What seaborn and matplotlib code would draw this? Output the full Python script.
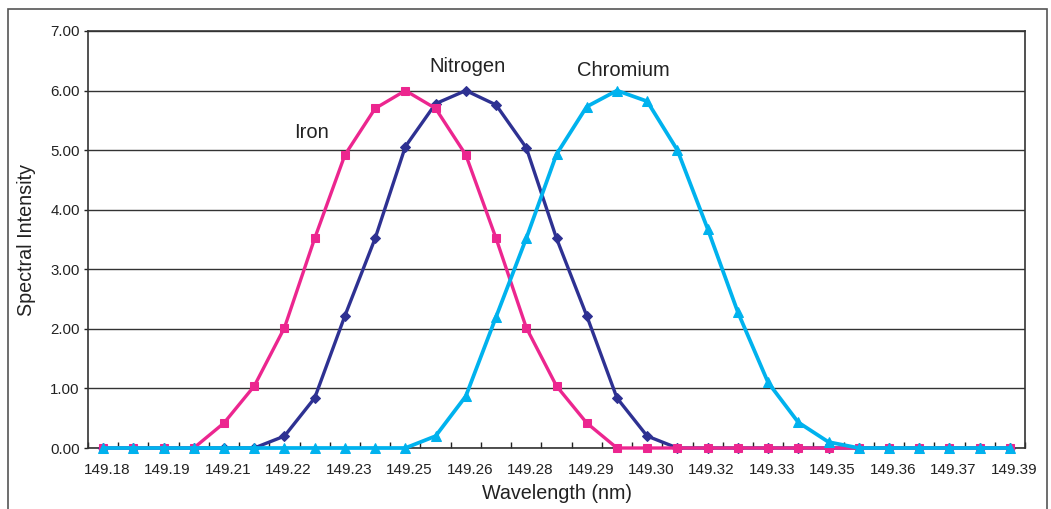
import numpy as np
import pandas as pd
import matplotlib
matplotlib.use("Agg")
import matplotlib.pyplot as plt
import matplotlib.transforms as mtransforms
import seaborn as sns
from matplotlib.patches import Rectangle

# ---- data ----
tick_labels = ["149.18", "149.19", "149.21", "149.22", "149.23", "149.25",
               "149.26", "149.28", "149.29", "149.30", "149.32", "149.33",
               "149.35", "149.36", "149.37", "149.39"]
y_ticks = [0, 1, 2, 3, 4, 5, 6, 7]

iron = [0, 0, 0, 0, 0.42, 1.04, 2.02, 3.52, 4.92, 5.70, 6.00, 5.70, 4.92, 3.52,
        2.02, 1.04, 0.42, 0, 0, 0, 0, 0, 0, 0, 0, 0, 0, 0, 0, 0, 0]
nitrogen = [0, 0, 0, 0, 0, 0, 0.20, 0.84, 2.22, 3.52, 5.06, 5.78, 6.00, 5.76,
            5.04, 3.52, 2.22, 0.84, 0.20, 0, 0, 0, 0, 0, 0, 0, 0, 0, 0, 0, 0]
chromium = [0, 0, 0, 0, 0, 0, 0, 0, 0, 0, 0, 0.20, 0.87, 2.20, 3.52, 4.93, 5.73,
            6.00, 5.82, 5.00, 3.68, 2.28, 1.10, 0.43, 0.10, 0, 0, 0, 0, 0, 0]

n_points = len(iron)
positions = list(range(n_points))

# ---- style ----
sns.set_style("white")
plt.rcParams["font.family"] = ["Liberation Sans", "DejaVu Sans"]

fig = plt.figure(figsize=(10.51, 5.09), dpi=100)
ax = fig.add_axes([88 / 1051, 1 - 448 / 509, (1025 - 88) / 1051, (448 - 31) / 509])

series = [
    ("Nitrogen", nitrogen, "#2E3192", "D", 4.8, 2.4),
    ("Iron", iron, "#EC268F", "s", 6.2, 2.4),
    ("Chromium", chromium, "#00B2EE", "^", 7.2, 2.7),
]
for name, vals, col, mk, ms, lw in series:
    df = pd.DataFrame({"x": positions, "y": vals})
    sns.lineplot(data=df, x="x", y="y", ax=ax, color=col, marker=mk,
                 markersize=ms, markeredgecolor=col, linewidth=lw,
                 zorder=3, clip_on=False)

ax.set_xlim(-0.5, n_points - 0.5)
ax.set_ylim(0, 7)
ax.set_yticks(y_ticks)
ax.set_yticklabels([f"{v:.2f}" for v in y_ticks])
ax.set_xticks(positions[::2])
ax.set_xticklabels(tick_labels)
ax.set_xticks(np.arange(-0.5, n_points, 1.0), minor=True)

ax.tick_params(axis="x", which="major", length=0, pad=11, labelsize=11,
               colors="#222222")
ax.tick_params(axis="x", which="minor", direction="in", length=4, width=1,
               color="#222222", bottom=True)
ax.tick_params(axis="y", which="major", direction="out", length=3, width=1,
               pad=3, labelsize=10.8, colors="#222222", left=True)

shift = mtransforms.ScaledTranslation(4 / 100, 0, fig.dpi_scale_trans)
for lbl in ax.get_xticklabels():
    lbl.set_transform(lbl.get_transform() + shift)

ax.grid(axis="y", color="#333333", linewidth=1.0, zorder=0)
ax.set_axisbelow(True)
for s in ax.spines.values():
    s.set_color("#333333")
    s.set_linewidth(1.2)
    s.set_visible(True)

ax.set_xlabel("Wavelength (nm)", fontsize=14.2, color="#222222", labelpad=5)
ax.set_ylabel("Spectral Intensity", fontsize=14.2, color="#222222", labelpad=10)

# series labels
ax.text(6.9, 5.3, "Iron", fontsize=14.5, ha="center", va="center", color="#222222")
ax.text(12.05, 6.4, "Nitrogen", fontsize=14.5, ha="center", va="center", color="#222222")
ax.text(17.2, 6.33, "Chromium", fontsize=14.5, ha="center", va="center", color="#222222")

# outer frame
fig.patches.append(Rectangle((7.5 / 1051, -0.1), (1047 - 7.5) / 1051, 1.1 - 9 / 509,
                             transform=fig.transFigure, fill=False,
                             edgecolor="#555555", linewidth=1.2))

fig.savefig("out.png", dpi=100, facecolor="white")
